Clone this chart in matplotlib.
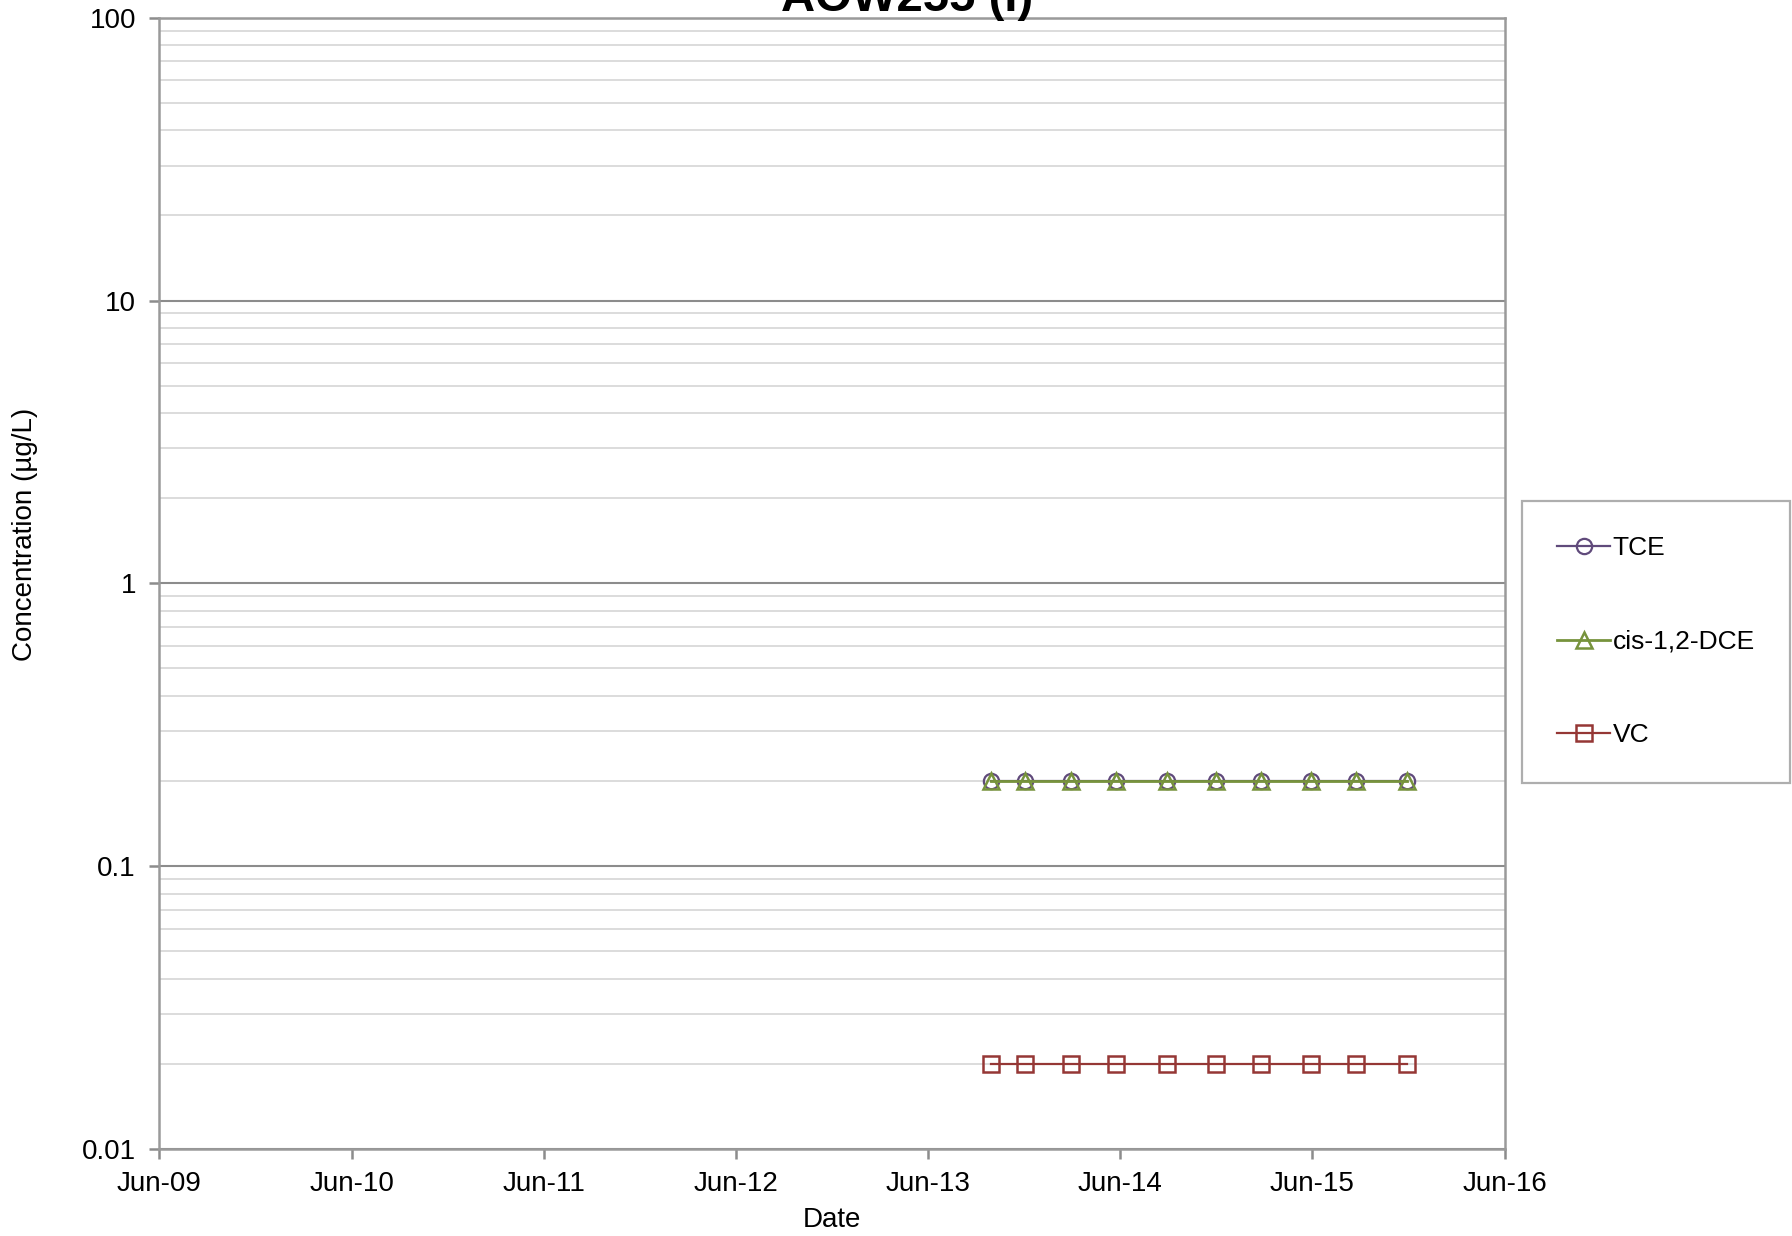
import datetime as dt
import matplotlib
matplotlib.use("Agg")
import matplotlib.pyplot as plt
import matplotlib.dates as mdates
from matplotlib.ticker import LogLocator, NullFormatter, FixedLocator, FixedFormatter

plt.rcParams['font.family'] = ['Liberation Sans', 'DejaVu Sans']

## data ########################################################################
sample_dates = ["2013-09-28", "2013-12-01", "2014-02-27", "2014-05-23", "2014-08-28",
                "2014-11-29", "2015-02-24", "2015-05-30", "2015-08-23", "2015-11-27"]
tce = [0.2, 0.2, 0.2, 0.2, 0.2, 0.2, 0.2, 0.2, 0.2, 0.2]
dce = [0.2, 0.2, 0.2, 0.2, 0.2, 0.2, 0.2, 0.2, 0.2, 0.2]
vc = [0.02, 0.02, 0.02, 0.02, 0.02, 0.02, 0.02, 0.02, 0.02, 0.02]

y_ticks = [0.01, 0.1, 1, 10, 100]
y_tick_labels = ["0.01", "0.1", "1", "10", "100"]
x_tick_labels = ["Jun-09", "Jun-10", "Jun-11", "Jun-12", "Jun-13", "Jun-14", "Jun-15", "Jun-16"]

dates = [dt.datetime.strptime(d, "%Y-%m-%d") for d in sample_dates]
x_ticks = [dt.datetime(2009 + i, 6, 1) for i in range(len(x_tick_labels))]

## plot ########################################################################
fig = plt.figure(figsize=(17.92, 12.36), dpi=100)
ax = fig.add_axes([0.0890, 0.0704, 0.7508, 0.9153])

ax.set_yscale("log")
ax.set_ylim(0.01, 100)
ax.set_xlim(mdates.date2num(x_ticks[0]), mdates.date2num(x_ticks[-1]))

ax.plot(dates, tce, color="#604a7b", marker="o", markersize=11, markerfacecolor="none",
        markeredgewidth=1.6, linewidth=1.6, label="TCE", zorder=3)
ax.plot(dates, dce, color="#77933c", marker="^", markersize=12, markerfacecolor="none",
        markeredgewidth=1.8, linewidth=2.0, label="cis-1,2-DCE", zorder=4)
ax.plot(dates, vc, color="#953735", marker="s", markersize=11, markerfacecolor="none",
        markeredgewidth=1.8, linewidth=1.6, label="VC", zorder=3)

ax.yaxis.set_major_locator(FixedLocator(y_ticks))
ax.yaxis.set_major_formatter(FixedFormatter(y_tick_labels))
ax.yaxis.set_minor_locator(LogLocator(base=10, subs=range(2, 10)))
ax.yaxis.set_minor_formatter(NullFormatter())
ax.xaxis.set_major_locator(FixedLocator(mdates.date2num(x_ticks)))
ax.xaxis.set_major_formatter(FixedFormatter(x_tick_labels))

ax.grid(True, which="major", axis="y", color="#8c8c8c", linewidth=1.5)
ax.grid(True, which="minor", axis="y", color="#d9d9d9", linewidth=1.3)
ax.set_axisbelow(True)

for s in ax.spines.values():
	s.set_color("#9a9a9a")
	s.set_linewidth(1.8)

ax.tick_params(axis="both", which="major", labelsize=20, color="#8c8c8c", width=1.8,
               length=7, direction="out")
ax.tick_params(axis="y", which="minor", length=0)
ax.tick_params(axis="x", pad=9)
ax.tick_params(axis="y", pad=10)

ax.set_xlabel("Date", fontsize=20)
ax.xaxis.set_label_coords(0.5, -0.0513)
ax.set_ylabel("Concentration (\u00b5g/L)", fontsize=20)
ax.yaxis.set_label_coords(-0.090, 0.543)

fig.text(0.506, 0.9915, "AOW255 (I)", fontsize=34, fontweight="bold",
         ha="center", va="baseline")

leg = ax.legend(loc="upper left", bbox_to_anchor=(1.0127, 0.573), fontsize=19,
                frameon=True, fancybox=False, edgecolor="#9a9a9a", borderpad=1.34,
                labelspacing=2.64, handlelength=2.0, handletextpad=0.1, borderaxespad=0)
leg.get_frame().set_linewidth(1.6)

fig.savefig("out.png", dpi=100)
